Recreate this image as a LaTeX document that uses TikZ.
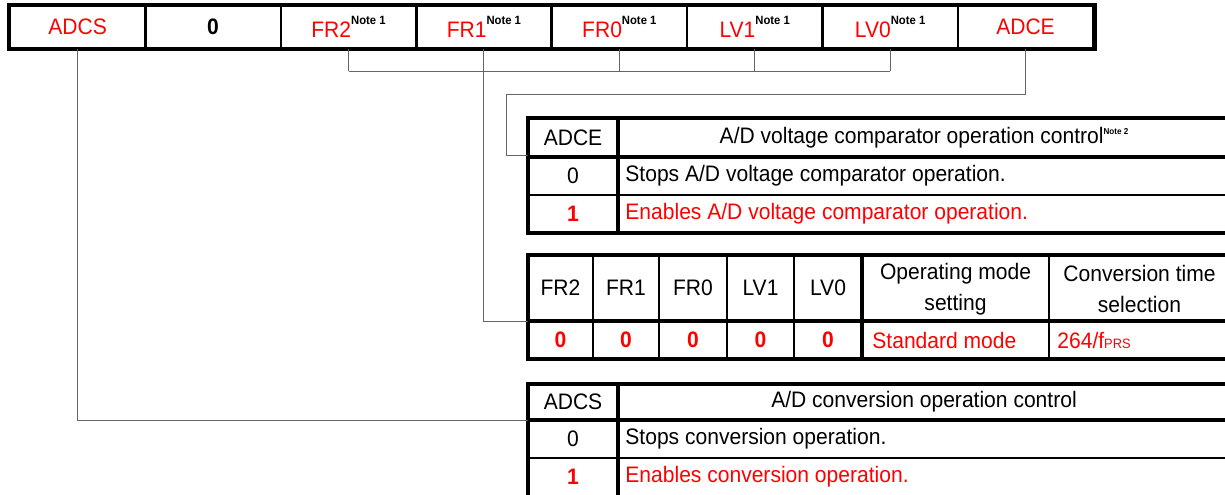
\documentclass[tikz,border=0pt]{standalone}
\usepackage{fontspec}
\setmainfont{Liberation Sans}[FakeStretch=0.94]

\definecolor{setred}{RGB}{255,0,0}
\definecolor{wiregray}{gray}{0.4}

% superscript note marks, black even inside a red label
\newcommand\notemark[1]{\raisebox{6.5pt}{\color{black}\fontsize{6}{6}\selectfont\bfseries Note #1}}
\newcommand\notetiny[1]{\raisebox{4.5pt}{\color{black}\fontsize{4.3}{4.3}\selectfont\bfseries Note #1}}

\begin{document}
\begin{tikzpicture}[
  x=0.5pt, y=-0.5pt,
  every node/.append style={font=\fontsize{11.2}{15.5}\selectfont, inner sep=0pt},
  bitcell/.style={draw, line width=1.3pt, minimum width=67.7pt, minimum height=21pt},
  frame/.style={draw, line width=2pt},
  rule/.style={draw, line width=1.1pt},
  wire/.style={draw=wiregray, line width=0.5pt},
  setval/.style={text=setred},
  celltext/.style={anchor=west},
]
\clip (0,0) rectangle (1225,494);

% ---------------------------------------------------------- the register
% Eight bit cells, same width, left to right as they sit in the register.
\foreach \n/\c/\t [count=\i from 0] in {
    ADCS/setred/{ADCS},
    zero/black/{\bfseries 0},
    FR2/setred/{FR2\notemark{1}},
    FR1/setred/{FR1\notemark{1}},
    FR0/setred/{FR0\notemark{1}},
    LV1/setred/{LV1\notemark{1}},
    LV0/setred/{LV0\notemark{1}},
    ADCE/setred/{ADCE}}{
  \node[bitcell, text=\c] (bit\n) at (77.7+135.4*\i,27) {\t};
}
\draw[frame] (bitADCS.north west) rectangle (bitADCE.south east);

% ------------------------------------------------------------ ADCE table
\node (adceKey) at (573,137.5) {ADCE};
\node (adceHead) at (924,137.5)
  {A/D voltage comparator operation control\notetiny{2}};
\node (adceOff) at (573,176) {0};
\node[celltext] (adceOffText) at (625,176)
  {Stops A/D voltage comparator operation.};
\node[setval] (adceOn) at (573,214) {\bfseries 1};
\node[setval, celltext] (adceOnText) at (625,214)
  {Enables A/D voltage comparator operation.};
\draw[frame] (1230,118) -| (528,233) -- (1230,233);
\draw[frame] (528,157) -- (1230,157);
\draw[rule] (528,195) -- (1230,195);
\draw[frame] (618,118) -- (618,233);
\coordinate (adceCorner) at (528,155);

% ----------------------------------------------------- FR / LV table
\foreach \n/\x in {FR2/560.5, FR1/626, FR0/693, LV1/760.5, LV0/828}{
  \node (key\n) at (\x,288) {\n};
  \node[setval] (val\n) at (\x,340) {\bfseries 0};
}
\node[align=center] (frMode) at (955.5,289) {Operating mode\\setting};
\node[align=center] (frTime) at (1139.5,289) {Conversion time\\selection};
\node[setval, celltext] (frModeVal) at (872,340) {Standard mode};
\node[setval, celltext] (frTimeVal) at (1057,340)
  {264/f{\fontsize{6.8}{7}\selectfont PRS}};
\draw[frame] (1230,255) -| (528,359) -- (1230,359);
\draw[frame] (528,321) -- (1230,321);
\foreach \x in {593,659,727,794}
  \draw[rule] (\x,255) -- (\x,359);
\draw[frame] (862,255) -- (862,359);
\draw[rule] (1049,255) -- (1049,359);
\coordinate (frCorner) at (528,321);

% ------------------------------------------------------------ ADCS table
% runs off the bottom edge, so no closing rule
\node (adcsKey) at (573,402) {ADCS};
\node (adcsHead) at (924,402) {A/D conversion operation control};
\node (adcsOff) at (573,439) {0};
\node[celltext] (adcsOffText) at (625,439) {Stops conversion operation.};
\node[setval] (adcsOn) at (573,477) {\bfseries 1};
\node[setval, celltext] (adcsOnText) at (625,477) {Enables conversion operation.};
\draw[frame] (1230,384) -| (528,500);
\draw[frame] (528,420) -- (1230,420);
\draw[rule] (528,458) -- (1230,458);
\draw[frame] (618,384) -- (618,500);
\coordinate (adcsCorner) at (528,420);

% -------------------------------------------------------------- the wires
\coordinate (frBus) at (0,71);
\foreach \n in {FR2,FR0,LV1,LV0}
  \draw[wire] (bit\n.south) -- (bit\n.south |- frBus);
\draw[wire] (bitFR2.south |- frBus) -- (bitLV0.south |- frBus);
\draw[wire] (bitFR1.south) |- (frCorner);

\coordinate (adceJog) at (506,94);
\draw[wire] (bitADCE.south) |- (adceJog) |- (adceCorner);

\draw[wire] (bitADCS.south) |- (adcsCorner);

\end{tikzpicture}
\end{document}
